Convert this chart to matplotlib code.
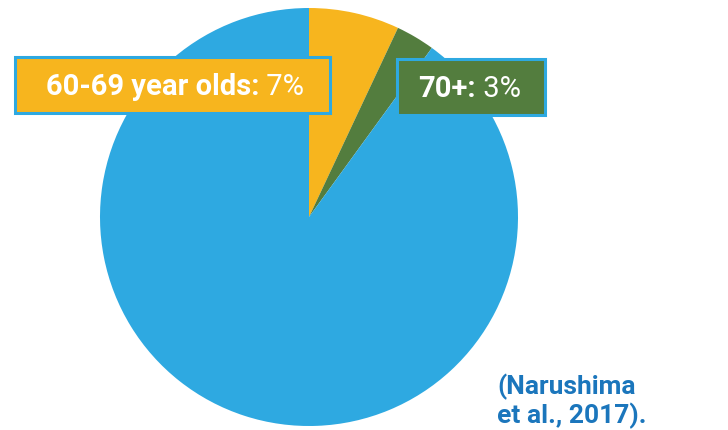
import matplotlib
matplotlib.use("Agg")
import matplotlib.pyplot as plt
from matplotlib.patches import Rectangle

categories = ["60-69 year olds", "70+", "Other"]
values = [7, 3, 90]
colors = ["#F7B51E", "#537D3E", "#2EA9E1"]
border = "#2EA9E1"
cite_color = "#1B76BC"

fig = plt.figure(figsize=(7.28, 4.31), dpi=100)
ax = fig.add_axes([0, 0, 1, 1])
# y-axis is inverted below, so -90 is the top and counterclockwise in data is clockwise on screen
ax.pie(values, colors=colors, startangle=-90, counterclock=True,
       center=(309, 218), radius=209, wedgeprops=dict(linewidth=0))
ax.set_xlim(0, 728)
ax.set_ylim(431, 0)
ax.set_aspect("equal")
ax.axis("off")

# label boxes
ax.add_patch(Rectangle((15, 58), 315, 56, facecolor=colors[0], edgecolor=border, linewidth=2.2, zorder=3))
ax.add_patch(Rectangle((397, 60), 148, 56, facecolor=colors[1], edgecolor=border, linewidth=2.2, zorder=3))

fam = ["Roboto", "DejaVu Sans"]
fs = 21
ax.text(259, 87, categories[0] + ":", ha="right", va="center", fontsize=fs, fontweight="bold", color="white", family=fam, zorder=4)
ax.text(259, 87, f" {values[0]}%", ha="left", va="center", fontsize=fs, color="white", family=fam, zorder=4)
ax.text(476, 89, categories[1] + ":", ha="right", va="center", fontsize=fs, fontweight="bold", color="white", family=fam, zorder=4)
ax.text(476, 89, f" {values[1]}%", ha="left", va="center", fontsize=fs, color="white", family=fam, zorder=4)

ax.text(497, 387, "(Narushima", ha="left", va="center", fontsize=19, fontweight="bold", color=cite_color, family=fam)
ax.text(497, 416, "et al., 2017).", ha="left", va="center", fontsize=19, fontweight="bold", color=cite_color, family=fam)

fig.savefig("out.png", dpi=100)
